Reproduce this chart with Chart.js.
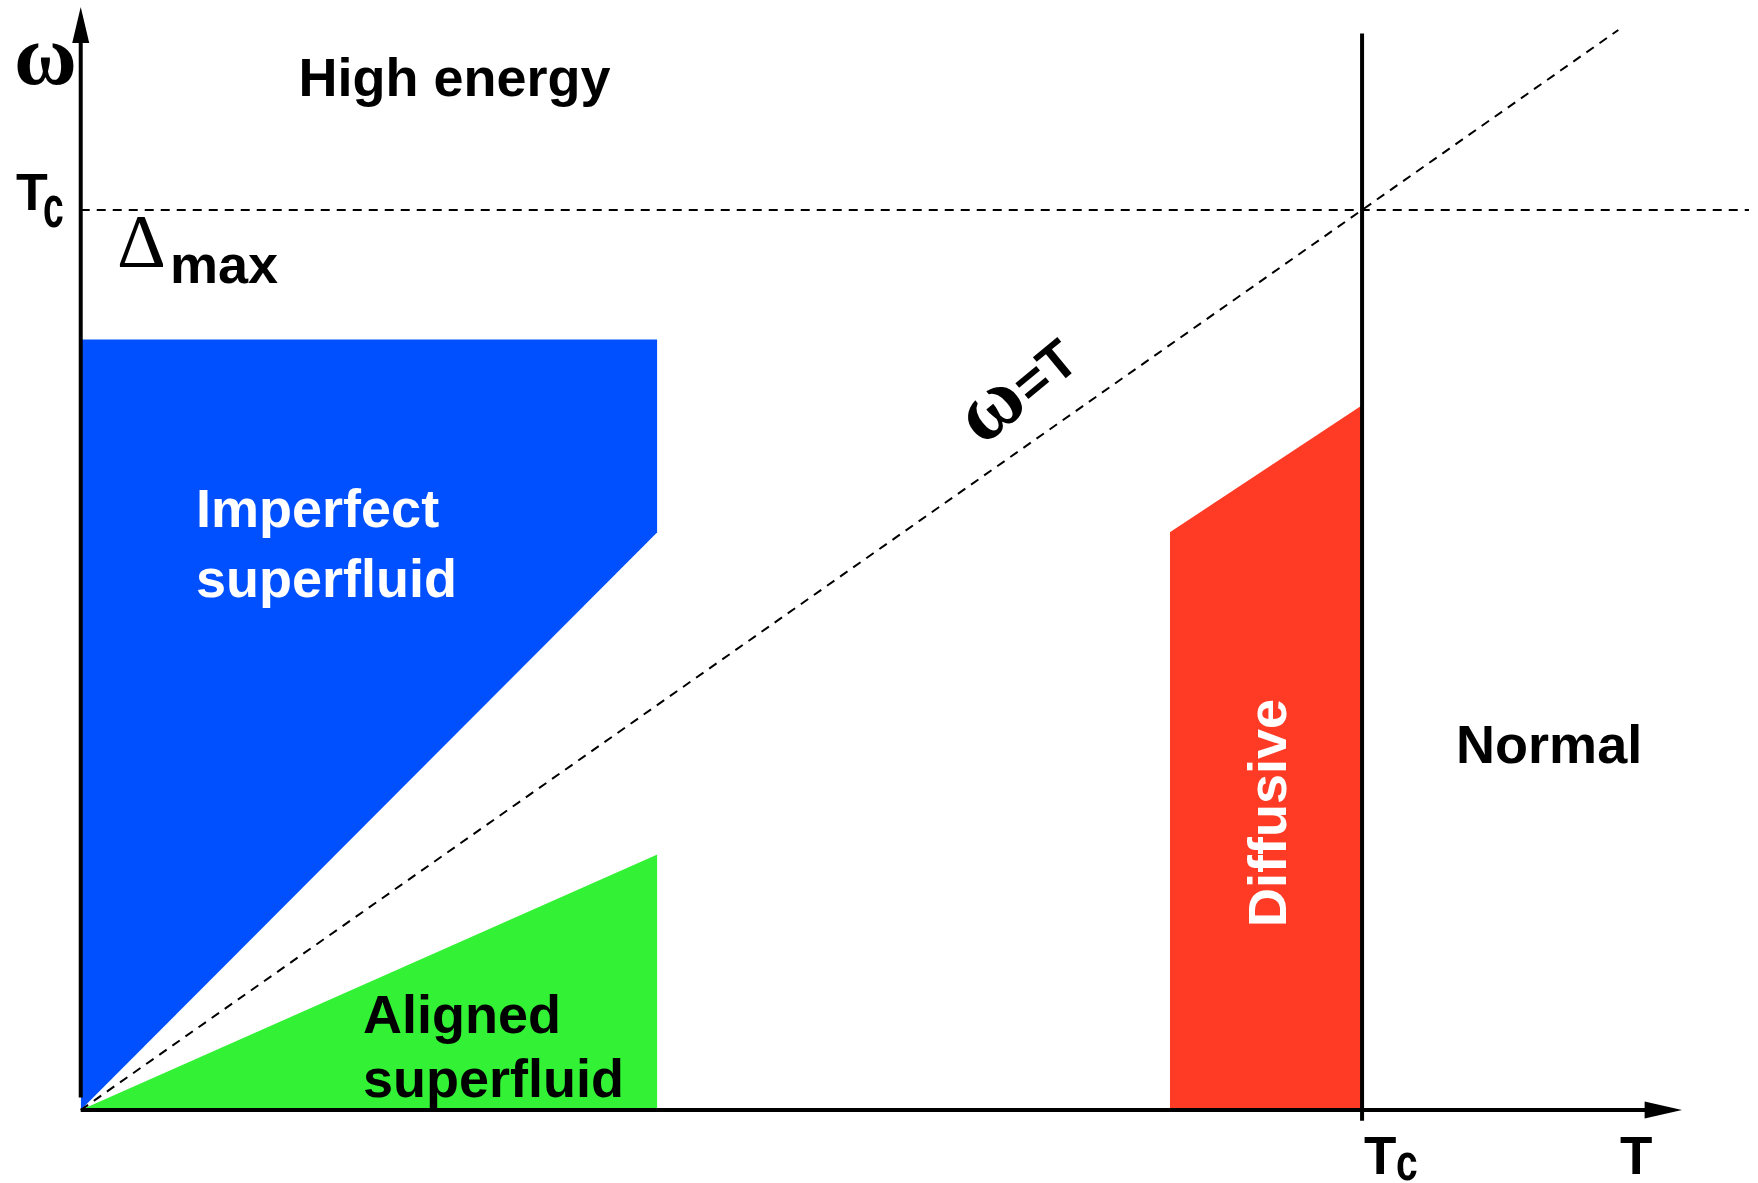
<!DOCTYPE HTML>
<html>
<head>
  <script src="https://cdn.jsdelivr.net/npm/chart.js"></script>
  <style>
    body { margin: 0; background: #ffffff; }
    canvas { display: block; }
  </style>
</head>
<body>
  <canvas id="phaseChart" width="1758" height="1183"></canvas>

  <script>
    // Region outlines, in units of Tc (x = T/Tc, y = omega/Tc)
    var imperfectTop = [[0, 0.856], [0.45, 0.856]];
    var imperfectBottom = [[0, 0], [0.45, 0.642]];
    var alignedEdge = [[0, 0], [0.45, 0.284]];
    var diffusiveEdge = [[0.85, 0.642], [1.0, 0.783]];

    // Guide lines
    var omegaEqualsT = [[0, 0], [1.2, 1.2]];
    var tcLevel = [[0, 1], [1.302, 1]];
    var tcLine = [[1, -0.012], [1, 1.196]];
    var xAxisLine = [[0, 0], [1.222, 0]];
    var yAxisLine = [[0, 0.014], [0, 1.19]];

    // Text
    var regionNames = ['High energy', 'Imperfect', 'superfluid', 'Aligned', 'superfluid', 'Diffusive', 'Normal'];
    var tickNames = ['\u03C9', 'T', 'c', '\u0394', 'max', 'T'];

    function toPoints(arr) {
      return arr.map(function (p) { return { x: p[0], y: p[1] }; });
    }

    var BLUE = '#0050ff';
    var GREEN = '#33f236';
    var RED = '#ff3b26';
    var NONE = 'rgba(0,0,0,0)';
    var SANS = '"Liberation Sans", Arial, sans-serif';
    var SERIF = '"Liberation Serif", "Times New Roman", serif';

    function area(points, color, fill, order) {
      return { data: toPoints(points), showLine: true, borderColor: NONE, borderWidth: 1,
               backgroundColor: color, fill: fill, pointRadius: 0, order: order };
    }
    function line(points, width, dash) {
      return { data: toPoints(points), showLine: true, borderColor: '#000000', borderWidth: width,
               borderDash: dash || [], fill: false, pointRadius: 0, order: 1 };
    }

    // arrow heads, tick labels and region names
    var decorations = {
      id: 'decorations',
      afterDatasetsDraw: function (chart) {
        var ctx = chart.ctx;
        var xs = chart.scales.x, ys = chart.scales.y;
        function px(v) { return xs.getPixelForValue(v); }
        function py(v) { return ys.getPixelForValue(v); }

        ctx.save();
        ctx.fillStyle = '#000000';
        // y arrow
        ctx.beginPath();
        ctx.moveTo(px(0), py(1.2256));
        ctx.lineTo(px(0) - 8.5, py(1.1856));
        ctx.lineTo(px(0) + 8.5, py(1.1856));
        ctx.closePath();
        ctx.fill();
        // x arrow
        ctx.beginPath();
        ctx.moveTo(px(1.2497), py(0));
        ctx.lineTo(px(1.2205), py(0) - 8.5);
        ctx.lineTo(px(1.2205), py(0) + 8.5);
        ctx.closePath();
        ctx.fill();

        ctx.textBaseline = 'alphabetic';
        ctx.textAlign = 'left';
        var bold = 'bold 54px ' + SANS;
        var omegaFont = 'bold 86px ' + SERIF;

        function text(str, x, y, font, color) {
          ctx.font = font;
          ctx.fillStyle = color;
          ctx.fillText(str, px(x), py(y));
        }
        function squeezed(str, x, y, font, sx) {
          ctx.save();
          ctx.font = font;
          ctx.fillStyle = '#000000';
          ctx.translate(px(x), py(y));
          ctx.scale(sx, 1);
          ctx.fillText(str, 0, 0);
          ctx.restore();
        }

        text(regionNames[0], 0.1700, 1.1267, bold, '#000000');
        text(regionNames[1], 0.090, 0.6478, bold, '#ffffff');
        text(regionNames[2], 0.090, 0.570, bold, '#ffffff');
        text(regionNames[3], 0.2203, 0.0856, bold, '#000000');
        text(regionNames[4], 0.2203, 0.0144, bold, '#000000');
        text(regionNames[6], 1.0734, 0.3856, bold, '#000000');

        // Diffusive, rotated
        ctx.save();
        ctx.translate(px(0.9407), py(0.330));
        ctx.rotate(-Math.PI / 2);
        ctx.font = bold;
        ctx.fillStyle = '#ffffff';
        ctx.textAlign = 'center';
        ctx.fillText(regionNames[5], 0, 0);
        ctx.restore();

        // axis labels
        text(tickNames[0], -0.052, 1.140, omegaFont, '#000000');
        text(tickNames[1], -0.0505, 1.0, 'bold 52px ' + SANS, '#000000');
        squeezed(tickNames[2], -0.0294, 0.981, 'bold 60px ' + SANS, 0.62);
        text(tickNames[3], 0.0283, 0.9367, '76px ' + SERIF, '#000000');
        text(tickNames[4], 0.0697, 0.9189, bold, '#000000');
        text(tickNames[1], 1.0015, -0.0711, 'bold 53px ' + SANS, '#000000');
        squeezed(tickNames[2], 1.0265, -0.0778, 'bold 52px ' + SANS, 0.75);
        text(tickNames[5], 1.2013, -0.0711, 'bold 53px ' + SANS, '#000000');

        // omega = T along the diagonal
        ctx.save();
        ctx.translate(px(0.7136), py(0.7744));
        ctx.rotate(-39.5 * Math.PI / 180);
        ctx.fillStyle = '#000000';
        ctx.font = omegaFont;
        var w = ctx.measureText('\u03C9').width;
        ctx.fillText('\u03C9', -w / 2, 18);
        ctx.font = bold;
        ctx.fillText('=T', w / 2 + 1, 18);
        ctx.restore();

        ctx.restore();
      }
    };

    var myContext = document.getElementById('phaseChart').getContext('2d');
    var myChart = new Chart(myContext, {
      type: 'scatter',
      data: {
        datasets: [
          area(imperfectTop, BLUE, '+1', 3),
          area(imperfectBottom, NONE, false, 3),
          area(alignedEdge, GREEN, 'origin', 3),
          area(diffusiveEdge, RED, 'origin', 3),
          line(omegaEqualsT, 2, [9, 7]),
          line(tcLevel, 2, [9, 7]),
          line(tcLine, 4),
          line(xAxisLine, 4),
          line(yAxisLine, 4)
        ]
      },
      options: {
        responsive: false,
        animation: false,
        layout: { padding: 0 },
        plugins: {
          legend: { display: false },
          tooltip: { enabled: false },
          title: { display: false }
        },
        scales: {
          x: { type: 'linear', min: -0.063, max: 1.309, display: false },
          y: { type: 'linear', min: -0.0811, max: 1.2333, display: false }
        }
      },
      plugins: [decorations]
    });
  </script>
</body>
</html>
